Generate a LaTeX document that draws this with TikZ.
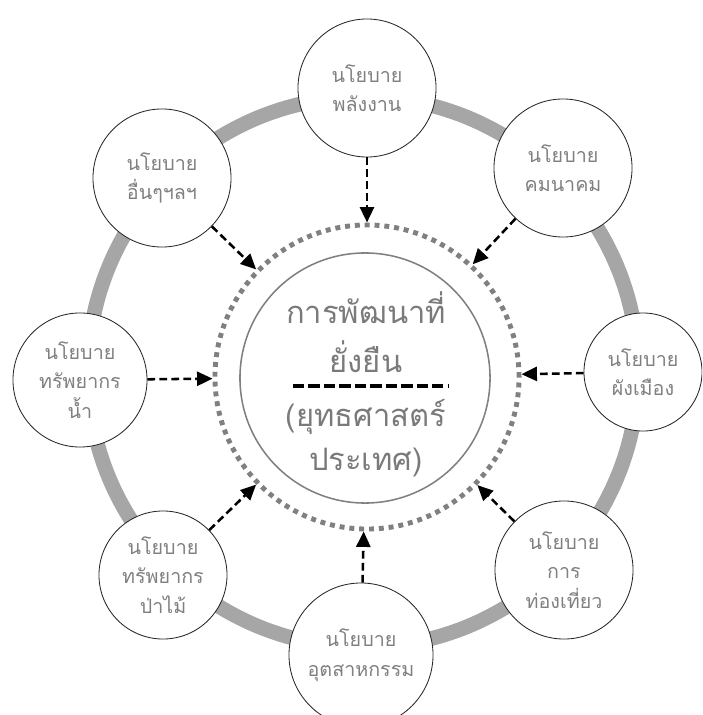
\documentclass[tikz,border=0pt]{standalone}
\usepackage{fontspec}
\newfontfamily\thaifont[Script=Thai]{Loma}
\usetikzlibrary{arrows.meta}
\definecolor{ringgray}{HTML}{A6A6A6}
\definecolor{dotgray}{HTML}{808080}
\definecolor{policytext}{HTML}{808080}
\definecolor{goaltext}{HTML}{7A7A7A}

\tikzset{
  policy/.style={circle,draw=black!85,line width=0.6pt,fill=white,minimum size=#1,
    inner sep=0pt,align=center,text=policytext,font=\thaifont\fontsize{14}{21}\selectfont},
  goalfont/.style={align=center,text=goaltext,font=\thaifont\fontsize{22}{#1}\selectfont},
  feed/.style={-{Triangle[length=11pt,width=10pt]},line width=1.8pt,dash pattern=on 5.5pt off 3pt}
}

\begin{document}
\begin{tikzpicture}[x=0.025cm,y=-0.025cm]
  \clip (0,0) rectangle (702,715);
  \coordinate (C) at (363,372);
  % outer grey ring
  \draw[ringgray,line width=10.5pt] (C) circle[radius=6.875cm];

  % centre
  \node[circle,draw=dotgray,line width=3.5pt,dash pattern=on 3.5pt off 3.5pt,minimum size=7.6cm] (ring) at (367,377) {};
  \node[circle,draw=dotgray,line width=1.1pt,minimum size=6.25cm] (goal) at (365,378) {};
  \node[goalfont=35pt] (goalname) at (366,332) {การพัฒนาที่\\ยั่งยืน};
  \node[goalfont=31pt] (goalsub) at (366,438) {(ยุทธศาสตร์\\ประเทศ)};
  \draw[line width=2.2pt,dash pattern=on 8pt off 3pt] (293,386) -- (449,386);

  % policies round the ring
  \node[policy=3.45cm] (energy) at (367,88) {นโยบาย\\พลังงาน};
  \node[policy=3.45cm] (transport) at (563,168) {นโยบาย\\คมนาคม};
  \node[policy=2.95cm] (cityplan) at (643,372) {นโยบาย\\ผังเมือง};
  \node[policy=3.45cm] (tourism) at (564,570) {นโยบาย\\การ\\ท่องเที่ยว};
  \node[policy=3.6cm] (industry) at (361,655) {นโยบาย\\อุตสาหกรรม};
  \node[policy=3.2cm] (forest) at (163,575) {นโยบาย\\ทรัพยากร\\ป่าไม้};
  \node[policy=3.35cm] (water) at (80,380) {นโยบาย\\ทรัพยากร\\น้ำ};
  \node[policy=3.45cm] (others) at (162,178) {นโยบาย\\อื่นๆฯลฯ};

  \foreach \p in {energy,transport,cityplan,tourism,industry,forest,water,others}
    \draw[feed] (\p) -- (ring);
\end{tikzpicture}
\end{document}
